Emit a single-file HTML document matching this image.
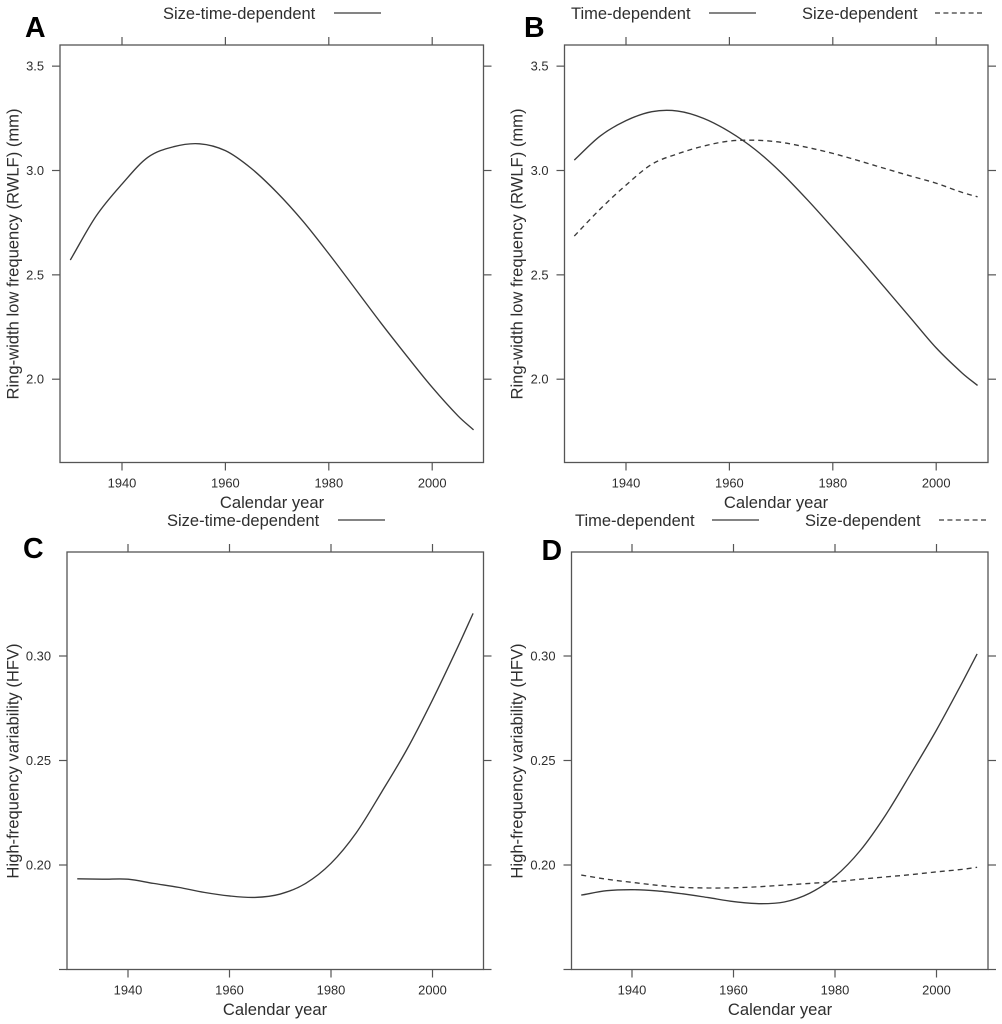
<!DOCTYPE html>
<html lang="en">
<head>
<meta charset="utf-8">
<title>Ring-width and high-frequency variability by calendar year</title>
<style>
html,body{margin:0;padding:0;background:#fff;}
#chart{display:block;position:absolute;left:0;top:0;filter:blur(0.35px);}
text{font-family:"Liberation Sans",sans-serif;fill:#2e2e2e;}
.tick-label{font-size:12.9px;}
.axis-title{font-size:16.6px;}
.legend-text{font-size:16.5px;}
.panel-letter{font-size:28.5px;font-weight:bold;fill:#000;}
</style>
</head>
<body>
<svg id="chart" width="1002" height="1024" viewBox="0 0 1002 1024" xmlns="http://www.w3.org/2000/svg"></svg>
<script>
// Shared axis data
const years = [1930,1935,1940,1945,1950,1955,1960,1965,1970,1975,1980,1985,1990,1995,2000,2005,2008];
const xTickValues = [1940,1960,1980,2000];
const rwlfTickValues = [2.0,2.5,3.0,3.5];
const rwlfTickLabels = ["2.0","2.5","3.0","3.5"];
const hfvTickValues = [0.15,0.20,0.25,0.30];
const hfvTickLabels = ["","0.20","0.25","0.30"];

// Series values
const rwlfSizeTime = [2.571,2.782,2.935,3.063,3.114,3.128,3.095,3.01,2.894,2.757,2.601,2.437,2.272,2.114,1.961,1.824,1.757];
const rwlfTime = [3.05,3.165,3.239,3.282,3.285,3.25,3.186,3.1,2.99,2.862,2.725,2.585,2.44,2.295,2.15,2.03,1.97];
const rwlfSize = [2.686,2.815,2.93,3.03,3.08,3.117,3.141,3.145,3.135,3.111,3.082,3.047,3.01,2.974,2.939,2.895,2.874];
const hfvSizeTime = [0.1934,0.1932,0.1932,0.1912,0.1893,0.1869,0.1852,0.1845,0.1861,0.1912,0.2008,0.2155,0.235,0.2555,0.279,0.3044,0.3204];
const hfvTime = [0.1856,0.1877,0.1882,0.1876,0.1862,0.1844,0.1825,0.1815,0.1823,0.1865,0.1945,0.207,0.224,0.244,0.2646,0.287,0.301];
const hfvSize = [0.1952,0.1932,0.1917,0.1903,0.1893,0.189,0.1891,0.1896,0.1904,0.1912,0.192,0.1932,0.1943,0.1954,0.1967,0.1979,0.1989];

const NS = "http://www.w3.org/2000/svg";
const svg = document.getElementById("chart");

function make(tag, parent, attrs, content) {
  const el = document.createElementNS(NS, tag);
  for (const k in attrs) el.setAttribute(k, attrs[k]);
  if (content !== undefined) el.textContent = content;
  parent.appendChild(el);
  return el;
}

// Smooth cubic Hermite path through the data points (handles uneven year spacing)
function smoothPath(xs, ys, xScale, yScale) {
  const p = xs.map((x, i) => [xScale(x), yScale(ys[i])]);
  const slope = i => {
    const a = p[Math.max(i - 1, 0)], b = p[Math.min(i + 1, p.length - 1)];
    return (b[1] - a[1]) / (b[0] - a[0]);
  };
  let d = "M" + p[0][0].toFixed(2) + " " + p[0][1].toFixed(2);
  for (let i = 0; i < p.length - 1; i++) {
    const b = p[i], c = p[i + 1], dx = (c[0] - b[0]) / 3;
    d += "C" + (b[0] + dx).toFixed(2) + " " + (b[1] + slope(i) * dx).toFixed(2) + " " +
         (c[0] - dx).toFixed(2) + " " + (c[1] - slope(i + 1) * dx).toFixed(2) + " " +
         c[0].toFixed(2) + " " + c[1].toFixed(2);
  }
  return d;
}

function drawPanel(cfg) {
  const g = make("g", svg, {});
  
  

  const xScale = v => cfg.x0 + (v - 1940) * cfg.xPerYear;
  const yScale = v => cfg.yRef - (v - cfg.refValue) * cfg.yPerUnit;

  const box = make("rect", g, {x: cfg.left, y: cfg.top, width: cfg.right - cfg.left, height: cfg.bottom - cfg.top, fill: "none", stroke: "#555", "stroke-width": 1.3});
  
  

  xTickValues.forEach(v => {
    const x = xScale(v);
    const top = make("line", g, {x1: x, x2: x, y1: cfg.top - 8, y2: cfg.top, stroke: "#555", "stroke-width": 1.2});
    
    
    const bot = make("line", g, {x1: x, x2: x, y1: cfg.bottom, y2: cfg.bottom + 8, stroke: "#555", "stroke-width": 1.2});
    
    
    const lab = make("text", g, {x: x, y: cfg.bottom + 25, "text-anchor": "middle", class: "tick-label"}, String(v));
    
    
  });

  cfg.yTicks.forEach((v, i) => {
    const y = yScale(v);
    const l = make("line", g, {x1: cfg.left - 8, x2: cfg.left, y1: y, y2: y, stroke: "#555", "stroke-width": 1.2});
    
    
    const r = make("line", g, {x1: cfg.right, x2: cfg.right + 8, y1: y, y2: y, stroke: "#555", "stroke-width": 1.2});
    
    
    if (cfg.yLabels[i]) {
      const lab = make("text", g, {x: cfg.left - 16, y: y + 4.5, "text-anchor": "end", class: "tick-label"}, cfg.yLabels[i]);
      
      
    }
  });

  const xt = make("text", g, {x: cfg.xTitleX, y: cfg.xTitleY, "text-anchor": "middle", class: "axis-title"}, "Calendar year");
  
  

  const yt = make("text", g, {transform: "translate(" + cfg.yTitleX + " " + cfg.yTitleY + ") rotate(-90)", "text-anchor": "middle", class: "axis-title"}, cfg.yTitle);
  
  

  const let_ = make("text", g, {x: cfg.letterX, y: cfg.letterY, class: "panel-letter"}, cfg.letter);
  
  

  cfg.series.forEach(s => {
    const attrs = {d: smoothPath(years, s.values, xScale, yScale), fill: "none", stroke: "#3a3a3a", "stroke-width": 1.35};
    if (s.dashed) attrs["stroke-dasharray"] = "5 4";
    const path = make("path", g, attrs);
    
    

    const txt = make("text", g, {x: s.textX, y: cfg.legendY + 6, class: "legend-text"}, s.label);
    
    

    const keyAttrs = {x1: s.keyX, x2: s.keyX + 47, y1: cfg.legendY, y2: cfg.legendY, stroke: "#3a3a3a", "stroke-width": 1.3};
    if (s.dashed) keyAttrs["stroke-dasharray"] = "5 3.4";
    const key = make("line", g, keyAttrs);
    
    
  });
}

const rwlfTitle = "Ring-width low frequency (RWLF) (mm)";
const hfvTitle = "High-frequency variability (HFV)";

drawPanel({letter: "A", letterX: 25, letterY: 37, left: 60, right: 483.5, top: 45, bottom: 462.5,
  x0: 122, xPerYear: 5.17, yRef: 170.5, refValue: 3.0, yPerUnit: 208.7,
  yTicks: rwlfTickValues, yLabels: rwlfTickLabels, yTitle: rwlfTitle, yTitleX: 18.5, yTitleY: 254,
  xTitleX: 272, xTitleY: 508, legendY: 13,
  series: [{name: "size-time-dependent", label: "Size-time-dependent", values: rwlfSizeTime, textX: 163, keyX: 334}]});

drawPanel({letter: "B", letterX: 524, letterY: 37, left: 564.5, right: 988, top: 45, bottom: 462.5,
  x0: 626, xPerYear: 5.17, yRef: 170.5, refValue: 3.0, yPerUnit: 208.7,
  yTicks: rwlfTickValues, yLabels: rwlfTickLabels, yTitle: rwlfTitle, yTitleX: 522.5, yTitleY: 254,
  xTitleX: 776, xTitleY: 508, legendY: 13,
  series: [
    {name: "time-dependent", label: "Time-dependent", values: rwlfTime, textX: 571, keyX: 709},
    {name: "size-dependent", label: "Size-dependent", values: rwlfSize, dashed: true, textX: 802, keyX: 935}
  ]});

drawPanel({letter: "C", letterX: 23, letterY: 558, left: 67, right: 483.5, top: 552, bottom: 969.5,
  x0: 128, xPerYear: 5.075, yRef: 865, refValue: 0.20, yPerUnit: 2090,
  yTicks: hfvTickValues, yLabels: hfvTickLabels, yTitle: hfvTitle, yTitleX: 18.5, yTitleY: 761,
  xTitleX: 275, xTitleY: 1015, legendY: 520,
  series: [{name: "size-time-dependent", label: "Size-time-dependent", values: hfvSizeTime, textX: 167, keyX: 338}]});

drawPanel({letter: "D", letterX: 541.5, letterY: 560, left: 571.5, right: 988, top: 552, bottom: 969.5,
  x0: 632, xPerYear: 5.075, yRef: 865, refValue: 0.20, yPerUnit: 2090,
  yTicks: hfvTickValues, yLabels: hfvTickLabels, yTitle: hfvTitle, yTitleX: 522.5, yTitleY: 761,
  xTitleX: 780, xTitleY: 1015, legendY: 520,
  series: [
    {name: "time-dependent", label: "Time-dependent", values: hfvTime, textX: 575, keyX: 712},
    {name: "size-dependent", label: "Size-dependent", values: hfvSize, dashed: true, textX: 805, keyX: 939}
  ]});
</script>
</body>
</html>
